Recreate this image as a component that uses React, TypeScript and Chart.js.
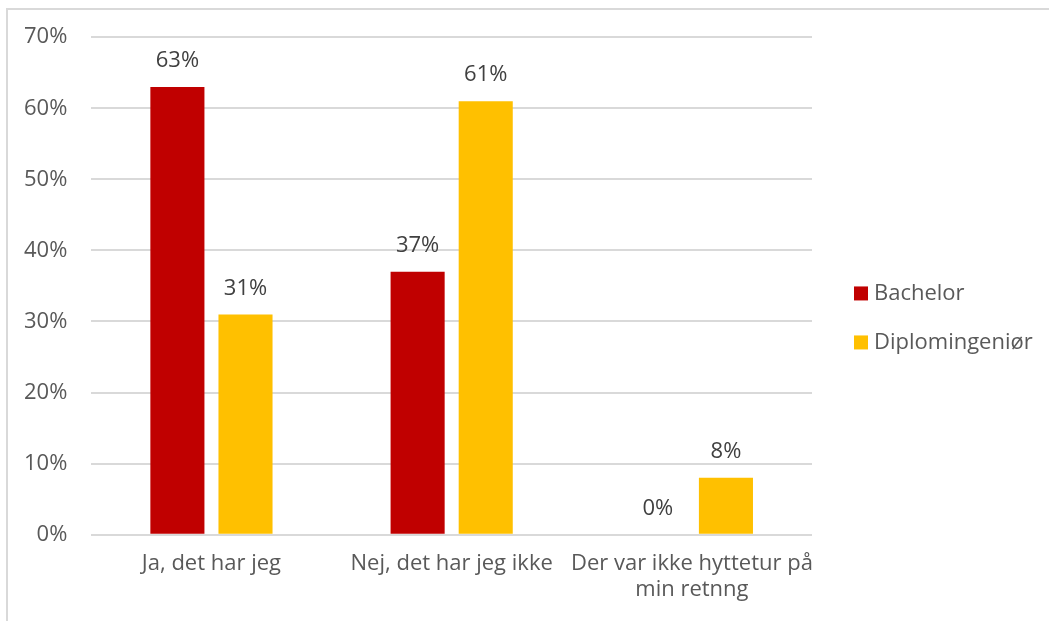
import React, { useEffect, useRef } from "react";
import { Chart, registerables } from "chart.js";

Chart.register(...registerables);

const categories: (string | string[])[] = [
  "Ja, det har jeg",
  "Nej, det har jeg ikke",
  ["Der var ikke hyttetur på", "min retnng"],
];
const seriesNames = ["Bachelor", "Diplomingeniør"];
const bachelorValues = [63, 37, 0];
const diplomValues = [31, 61, 8];
const yTicks = [0, 10, 20, 30, 40, 50, 60, 70];
const colors = ["#C00000", "#FFC000"];

const FONT = "'Open Sans', 'Noto Sans', sans-serif";
const FS = 22;

const dataLabels = {
  id: "dataLabels",
  afterDatasetsDraw(chart: any) {
    const ctx = chart.ctx;
    ctx.save();
    ctx.font = `${FS}px ${FONT}`;
    ctx.fillStyle = "#404040";
    ctx.textAlign = "center";
    ctx.textBaseline = "middle";
    chart.data.datasets.forEach((ds: any, i: number) => {
      const meta = chart.getDatasetMeta(i);
      meta.data.forEach((bar: any, j: number) => {
        ctx.fillText(`${ds.data[j]}%`, bar.x, bar.y - 26);
      });
    });
    ctx.restore();
  },
};

const sideLegend = {
  id: "sideLegend",
  afterDraw(chart: any) {
    const ctx = chart.ctx;
    const area = chart.chartArea;
    ctx.save();
    ctx.font = `${FS}px ${FONT}`;
    ctx.textAlign = "left";
    ctx.textBaseline = "middle";
    const x = area.right + 42;
    const cy = (area.top + area.bottom) / 2 + 32;
    const step = 49;
    chart.data.datasets.forEach((ds: any, i: number) => {
      const y = cy - step / 2 + i * step;
      ctx.fillStyle = ds.backgroundColor;
      ctx.fillRect(x, y - 7, 14, 14);
      ctx.fillStyle = "#595959";
      ctx.fillText(ds.label, x + 20, y);
    });
    ctx.restore();
  },
};

export default function App() {
  const ref = useRef<HTMLCanvasElement>(null);
  useEffect(() => {
    document.body.style.margin = "0";
    const chart = new Chart(ref.current!, {
      type: "bar",
      data: {
        labels: categories,
        datasets: [
          {
            label: seriesNames[0],
            data: bachelorValues,
            backgroundColor: colors[0],
            categoryPercentage: 0.567,
            barPercentage: 0.794,
          },
          {
            label: seriesNames[1],
            data: diplomValues,
            backgroundColor: colors[1],
            categoryPercentage: 0.567,
            barPercentage: 0.794,
          },
        ],
      },
      options: {
        animation: false,
        responsive: false,
        devicePixelRatio: 1,
        layout: { padding: { top: 35.5, left: 0, right: 237, bottom: 10.5 } },
        plugins: {
          tooltip: { enabled: false },
          legend: { display: false },
        },
        scales: {
          x: {
            grid: { display: false },
            border: { display: false },
            ticks: {
              color: "#595959",
              font: { size: FS, family: FONT, lineHeight: 1.2 },
              maxRotation: 0,
              autoSkip: false,
              padding: 7.5,
            },
          },
          y: {
            min: 0,
            max: 70,
            afterBuildTicks: (scale: any) => {
              scale.ticks = yTicks.map((v) => ({ value: v }));
            },
            grid: { color: "#D9D9D9", lineWidth: 2, drawTicks: false },
            border: { display: false },
            ticks: {
              color: "#595959",
              font: { size: FS, family: FONT },
              padding: 24,
              callback: (v: any) => `${v}%`,
            },
          },
        },
      },
      plugins: [dataLabels, sideLegend],
    });
    return () => chart.destroy();
  }, []);
  return (
    <div style={{ position: "relative", width: 1049, height: 621, overflow: "hidden" }}>
      <div
        style={{
          position: "absolute",
          left: 6,
          top: 8,
          width: 1200,
          height: 800,
          border: "2px solid #D9D9D9",
          boxSizing: "border-box",
        }}
      />
      <canvas ref={ref} width={1049} height={621} style={{ position: "absolute", left: 0, top: 0 }} />
    </div>
  );
}
